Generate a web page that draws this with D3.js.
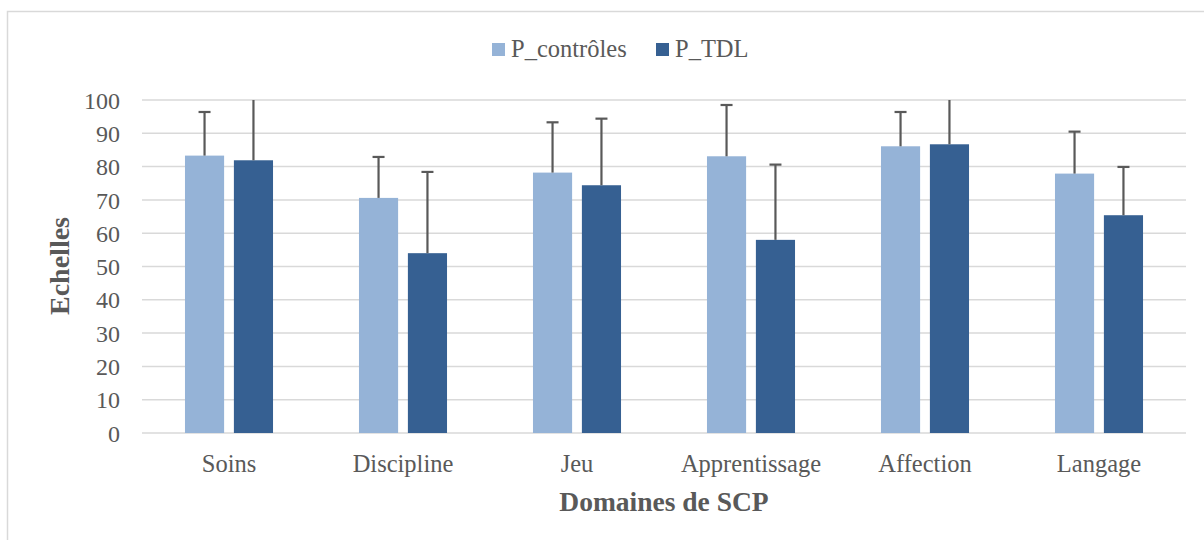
<!DOCTYPE html>
<html>
<head>
<meta charset="utf-8">
<script src="https://cdn.jsdelivr.net/npm/d3@7"></script>
<style>
  body { margin: 0; background: #fff; }
  text { font-family: "Liberation Serif", "DejaVu Serif", serif; fill: #595959; }
</style>
</head>
<body>
<svg id="chart" width="1204" height="540"></svg>
<script>
// data
const categories = ["Soins", "Discipline", "Jeu", "Apprentissage", "Affection", "Langage"];
const series = ["P_contrôles", "P_TDL"];
const controles = [83.3, 70.6, 78.2, 83.1, 86.1, 77.9];
const tdl = [81.9, 54.0, 74.4, 58.0, 86.7, 65.4];
const controlesSd = [13.1, 12.3, 15.1, 15.4, 10.3, 12.6];
const tdlSd = [19.0, 24.4, 20.0, 22.6, 14.0, 14.5];
const yTicks = [0, 10, 20, 30, 40, 50, 60, 70, 80, 90, 100];

const colors = { "P_contrôles": "#95b3d7", "P_TDL": "#366092" };

const svg = d3.select("#chart");
const plotLeft = 142, plotRight = 1186, plotTop = 100, plotBottom = 433;

// frame (only top and left edges visible)
svg.append("rect")
  .attr("x", 7.5).attr("y", 11.5)
  .attr("width", 1300).attr("height", 600)
  .attr("fill", "none").attr("stroke", "#d9d9d9").attr("stroke-width", 1.5);

let rows = categories.map(function(c, i) {
  return {
    cat: c,
    vals: [
      { s: series[0], v: controles[i], sd: controlesSd[i] },
      { s: series[1], v: tdl[i], sd: tdlSd[i] }
    ]
  };
});

let y = d3.scaleLinear().domain([0, 100]).range([plotBottom, plotTop]);
let x0 = d3.scaleBand().domain(categories).range([plotLeft, plotRight])
  .paddingInner(0.494).paddingOuter(0.247);
let x1 = d3.scaleBand().domain(series).range([0, x0.bandwidth()]).paddingInner(0.2);

// gridlines
svg.append("g").selectAll("line").data(yTicks).enter().append("line")
  .attr("x1", plotLeft).attr("x2", plotRight)
  .attr("y1", d => y(d)).attr("y2", d => y(d))
  .attr("stroke", "#d9d9d9").attr("stroke-width", 1.5);

// y axis labels
let yAxis = d3.axisLeft(y).tickValues(yTicks).tickSize(0).tickPadding(0);
let gy = svg.append("g").attr("transform", "translate(120,0)").call(yAxis);
gy.select(".domain").remove();
gy.selectAll("text").attr("font-size", 24).attr("fill", "#595959")
  .attr("font-family", "Liberation Serif").attr("dy", "0.34em");

// x axis labels
let xAxis = d3.axisBottom(x0).tickSize(0).tickPadding(0);
let gx = svg.append("g").attr("transform", "translate(0,472)").call(xAxis);
gx.select(".domain").remove();
gx.selectAll("text").attr("font-size", 24.5).attr("fill", "#595959")
  .attr("font-family", "Liberation Serif").attr("dy", 0);

// bars
let groups = svg.append("g").selectAll("g").data(rows).enter().append("g")
  .attr("transform", d => "translate(" + x0(d.cat) + ",0)");

groups.selectAll("rect").data(d => d.vals).enter().append("rect")
  .attr("x", d => x1(d.s))
  .attr("y", d => y(d.v))
  .attr("width", x1.bandwidth())
  .attr("height", d => y(0) - y(d.v))
  .attr("fill", d => colors[d.s]);

// error bars (plus only, clipped at 100)
let err = groups.selectAll("g.err").data(d => d.vals).enter().append("g").attr("class", "err");
err.append("line")
  .attr("x1", d => x1(d.s) + x1.bandwidth() / 2)
  .attr("x2", d => x1(d.s) + x1.bandwidth() / 2)
  .attr("y1", d => y(d.v))
  .attr("y2", d => y(Math.min(100, d.v + d.sd)))
  .attr("stroke", "#595959").attr("stroke-width", 2.2);
err.filter(d => d.v + d.sd <= 100).append("line")
  .attr("x1", d => x1(d.s) + x1.bandwidth() / 2 - 6)
  .attr("x2", d => x1(d.s) + x1.bandwidth() / 2 + 6)
  .attr("y1", d => y(d.v + d.sd))
  .attr("y2", d => y(d.v + d.sd))
  .attr("stroke", "#595959").attr("stroke-width", 2.2);

// legend
let legendX = [492, 656];
let leg = svg.append("g").selectAll("g").data(series).enter().append("g")
  .attr("transform", (d, i) => "translate(" + legendX[i] + ",0)");
leg.append("rect").attr("x", 0).attr("y", 43).attr("width", 13).attr("height", 13)
  .attr("fill", d => colors[d]);
leg.append("text").attr("x", 19).attr("y", 57).attr("font-size", 24.5).text(d => d);

// axis titles
svg.append("text")
  .attr("x", 664).attr("y", 511)
  .attr("text-anchor", "middle")
  .attr("font-size", 27.5).attr("font-weight", "bold")
  .text("Domaines de SCP");

svg.append("text")
  .attr("transform", "translate(69,266) rotate(-90)")
  .attr("text-anchor", "middle")
  .attr("font-size", 28).attr("font-weight", "bold")
  .text("Echelles");
</script>
</body>
</html>
